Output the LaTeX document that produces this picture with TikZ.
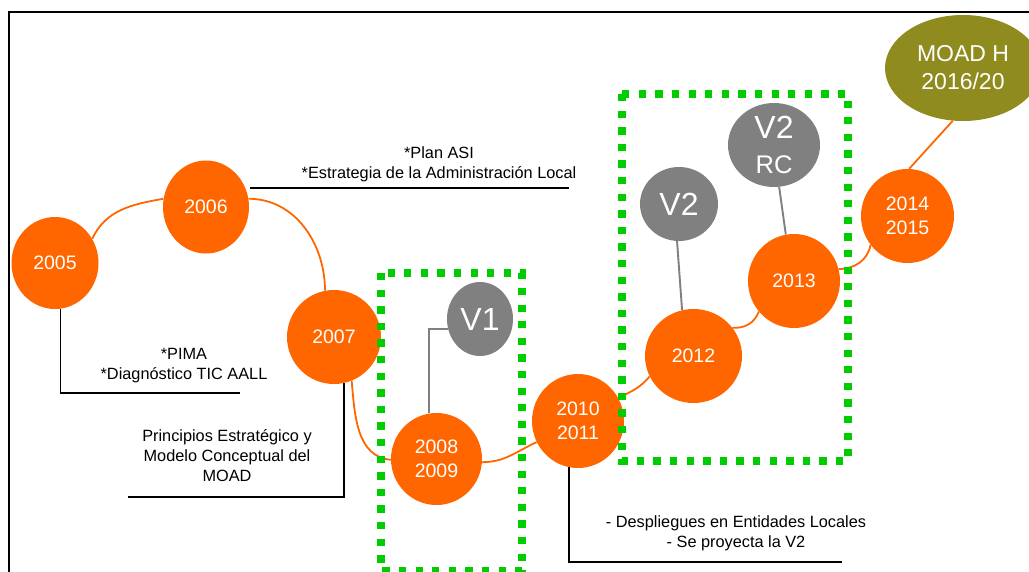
\documentclass[tikz,border=0pt]{standalone}
\usepackage{fontspec}
\setmainfont{Liberation Sans}
\usetikzlibrary{shapes.geometric}
\definecolor{orangeY}{RGB}{255,102,0}
\definecolor{greyV}{RGB}{128,128,128}
\definecolor{oliveM}{RGB}{143,139,30}
\definecolor{greenB}{RGB}{0,204,0}
\begin{document}
\begin{tikzpicture}[x=1pt,y=1pt,
 year/.style={ellipse, fill=orangeY, text=white, inner sep=0pt, align=center, font=\fontsize{19.5}{24}\selectfont},
 ver/.style={ellipse, fill=greyV, text=white, inner sep=0pt, align=center, font=\fontsize{32}{35}\selectfont},
 link/.style={draw=orangeY, line width=1.8pt},
 vlink/.style={draw=greyV, line width=1.9pt},
 lbl/.style={align=center, font=\fontsize{16.3}{20}\selectfont, inner sep=0pt},
 lblline/.style={draw=black, line width=1.4pt},
 greenbox/.style={draw=greenB, line width=7.3pt, dash pattern=on 7.3pt off 9.3pt},
]
\useasboundingbox (0,-571) rectangle (1029,0);
\draw[line width=2pt] (8.5,-580) -- (8.5,-12) -- (1040,-12);

% year nodes
\node[year, minimum width=87, minimum height=92] (n2005) at (55,-263) {2005};
\node[year, minimum width=86, minimum height=93] (n2006) at (206,-207) {2006};
\node[year, minimum width=94, minimum height=94] (n2007) at (334,-337) {2007};
\node[year, minimum width=91, minimum height=92] (n2008) at (436.5,-459) {2008\\2009};
\node[year, minimum width=92, minimum height=94] (n2010) at (578,-421) {2010\\2011};
\node[year, minimum width=97, minimum height=94] (n2012) at (693.5,-356) {2012};
\node[year, minimum width=92, minimum height=94] (n2013) at (794,-281) {2013};
\node[year, minimum width=93, minimum height=94] (n2014) at (907.5,-216) {2014\\2015};

% version nodes
\node[ver, minimum width=66, minimum height=74] (v1) at (480,-319) {V1};
\node[ver, minimum width=78, minimum height=74] (v2) at (679,-204) {V2};
\node[ver, minimum width=92, minimum height=84] (v2rc) at (774,-145) {V2\\{\fontsize{25.5}{35}\selectfont RC}};
\node[ellipse, fill=oliveM, text=white, inner sep=0pt, align=center, font=\fontsize{23}{28}\selectfont,
      minimum width=156, minimum height=106] (moad) at (963,-68) {MOAD H\\2016/20};

% orange timeline connectors
\draw[link] (n2005.33) to[out=65,in=190] (n2006.169);
\draw[link] (n2006.11) to[out=0,in=90] (n2007.101);
\draw[link] (n2007.-68) to[out=-85,in=175] (n2008.181);
\draw[link] (n2008.-4) to[out=0,in=205] (n2010.207);
\draw[link] (n2010.30) to[out=25,in=230] (n2012.205);
\draw[link] (n2012.36) to[out=-5,in=250] (n2013.221);
\draw[link] (n2013.15) to[out=0,in=260] (n2014.218);
\draw[link] (n2014.88) -- (moad.259);

% grey version connectors
\draw[vlink] (v1.197) -| (n2008.99);
\draw[vlink] (v2.267) -- (n2012.104);
\draw[vlink] (v2rc.277) -- (n2013.100);

% labels
\coordinate (l6a) at (250,-188);
\coordinate (l6b) at (569,-188);
\draw[lblline] (l6a) -- (l6b);
\node[lbl] (t6) at (439,-164) {*Plan ASI\\*Estrategia de la Administración Local};

\coordinate (l5) at (240,-393);
\draw[lblline] (n2005.-83) |- (l5);
\node[lbl] (t5) at (184,-366) {*PIMA\\*Diagnóstico TIC AALL};

\coordinate (l7) at (128,-497);
\draw[lblline] (n2007.-78) |- (l7);
\node[lbl] (t7) at (227,-456) {Principios Estratégico y\\Modelo Conceptual del\\MOAD};

\coordinate (l10) at (842,-562);
\draw[lblline] (n2010.259) |- (l10);
\node[lbl] (t10) at (736,-533) {- Despliegues en Entidades Locales\\- Se proyecta la V2};

% green dotted boxes
\draw[greenbox] (381,-273) rectangle (522,-570.5);
\draw[greenbox] (622,-94) rectangle (848,-461);
\end{tikzpicture}
\end{document}
